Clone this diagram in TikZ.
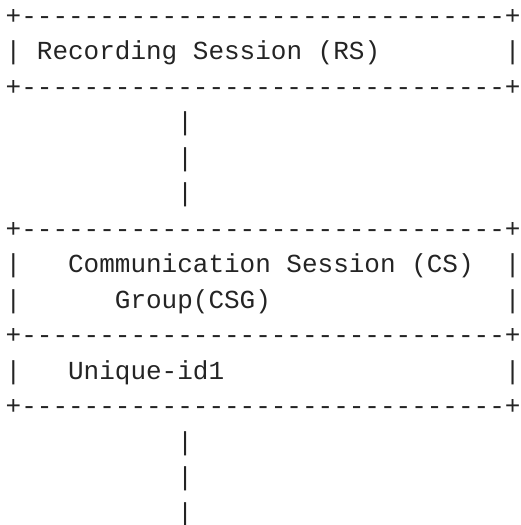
\documentclass[tikz,border=0pt]{standalone}
\usepackage{fontspec}
\setmonofont{Liberation Mono}
\definecolor{ink}{RGB}{36,36,36}
% 31 hyphens between the corner marks of every box rule
\newcommand{\boxrule}{+----------{}----------{}----------{}-+}
\tikzset{
  ascii/.style={inner sep=0pt, anchor=base west, text=ink,
    font=\fontsize{26}{26}\selectfont\ttfamily},
}
% column c, row r of the character grid
\newcommand{\cx}[1]{5.5+15.6*#1}
\newcommand{\ry}[1]{24+35.5*#1}
\begin{document}
\begin{tikzpicture}[x=1pt,y=-1pt]
  \useasboundingbox (0,0) rectangle (520,525);
  % Recording Session box
  \node[ascii] (rsTop) at ({\cx{0}},{\ry{0}}) {\boxrule};
  \node[ascii] (rsL)   at ({\cx{0}},{\ry{1}}) {|};
  \node[ascii] (rsTxt) at ({\cx{2}},{\ry{1}}) {Recording Session (RS)};
  \node[ascii] (rsR)   at ({\cx{32}},{\ry{1}}) {|};
  \node[ascii] (rsBot) at ({\cx{0}},{\ry{2}}) {\boxrule};
  % link down to the group box
  \node[ascii] (upA) at ({\cx{11}},{\ry{3}}) {|};
  \node[ascii] (upB) at ({\cx{11}},{\ry{4}}) {|};
  \node[ascii] (upC) at ({\cx{11}},{\ry{5}}) {|};
  % Communication Session Group box
  \node[ascii] (csTop)  at ({\cx{0}},{\ry{6}}) {\boxrule};
  \node[ascii] (csL1)   at ({\cx{0}},{\ry{7}}) {|};
  \node[ascii] (csTxt1) at ({\cx{4}},{\ry{7}}) {Communication Session (CS)};
  \node[ascii] (csR1)   at ({\cx{32}},{\ry{7}}) {|};
  \node[ascii] (csL2)   at ({\cx{0}},{\ry{8}}) {|};
  \node[ascii] (csTxt2) at ({\cx{7}},{\ry{8}}) {Group(CSG)};
  \node[ascii] (csR2)   at ({\cx{32}},{\ry{8}}) {|};
  \node[ascii] (csMid)  at ({\cx{0}},{\ry{9}}) {\boxrule};
  \node[ascii] (idL)    at ({\cx{0}},{\ry{10}}) {|};
  \node[ascii] (idTxt)  at ({\cx{4}},{\ry{10}}) {Unique-id1};
  \node[ascii] (idR)    at ({\cx{32}},{\ry{10}}) {|};
  \node[ascii] (csBot)  at ({\cx{0}},{\ry{11}}) {\boxrule};
  % link continuing below
  \node[ascii] (dnA) at ({\cx{11}},{\ry{12}}) {|};
  \node[ascii] (dnB) at ({\cx{11}},{\ry{13}}) {|};
  \node[ascii] (dnC) at ({\cx{11}},{\ry{14}}) {|};
\end{tikzpicture}
\end{document}
